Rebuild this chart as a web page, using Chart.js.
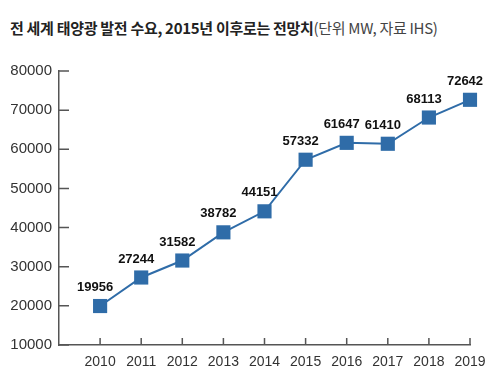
<!DOCTYPE html>
<html>
<head>
<meta charset="utf-8">
<script src="https://cdn.jsdelivr.net/npm/chart.js@4.4.1/dist/chart.umd.min.js"></script>
<style>
  html, body { margin: 0; padding: 0; background: #fff; }
  #wrap { position: relative; width: 500px; height: 384px; }
  #title {
    position: absolute; left: 10px; top: 17px;
    font-family: "Noto Sans CJK KR", sans-serif; font-size: 15px;
    letter-spacing: -0.3px; color: #222; white-space: nowrap;
  }
  #title b { font-weight: 700; }
  #title span { font-weight: 400; color: #444; }
  canvas { position: absolute; left: 0; top: 0; }
</style>
</head>
<body>
<div id="wrap">
  <div id="title"><b>전 세계 태양광 발전 수요, 2015년 이후로는 전망치</b><span>(단위 MW, 자료 IHS)</span></div>
  <canvas id="solarChart" width="500" height="384"></canvas>
</div>
<script>
// Data
const years = [2010, 2011, 2012, 2013, 2014, 2015, 2016, 2017, 2018, 2019];
const demand = [19956, 27244, 31582, 38782, 44151, 57332, 61647, 61410, 68113, 72642];
const yTicks = [10000, 20000, 30000, 40000, 50000, 60000, 70000, 80000];

const blue = '#2f6ca8';
const axisColor = '#555';

// Draw value labels above the points and the inward tick marks
const extrasPlugin = {
    id: 'extras',
    afterDraw(chart) {
        const ctx = chart.ctx;
        const xs = chart.scales.x;
        const ys = chart.scales.y;
        ctx.save();
        ctx.strokeStyle = axisColor;
        ctx.lineWidth = 1.5;
        ctx.beginPath();
        yTicks.forEach(v => {
            const py = ys.getPixelForValue(v);
            ctx.moveTo(xs.left, py);
            ctx.lineTo(xs.left + 10, py);
        });
        years.forEach(v => {
            const px = xs.getPixelForValue(v);
            ctx.moveTo(px, ys.bottom);
            ctx.lineTo(px, ys.bottom - 7);
        });
        ctx.stroke();

        const meta = chart.getDatasetMeta(0);
        ctx.fillStyle = '#111';
        ctx.font = 'bold 13px "Liberation Sans", Arial, sans-serif';
        ctx.textAlign = 'center';
        ctx.textBaseline = 'bottom';
        meta.data.forEach((pt, i) => {
            ctx.fillText(String(demand[i]), pt.x - 5, pt.y - 12);
        });
        ctx.restore();
    }
};

const ctx = document.getElementById('solarChart').getContext('2d');
new Chart(ctx, {
    type: 'line',
    data: {
        datasets: [{
            data: years.map((yr, i) => ({ x: yr, y: demand[i] })),
            borderColor: blue,
            backgroundColor: blue,
            borderWidth: 2,
            pointStyle: 'rect',
            pointRadius: 10,
            pointBorderWidth: 0,
            pointBackgroundColor: blue,
            tension: 0,
            clip: false
        }]
    },
    options: {
        responsive: false,
        animation: false,
        layout: { padding: { top: 71, right: 30, left: 0, bottom: 0 } },
        plugins: {
            legend: { display: false },
            tooltip: { enabled: false }
        },
        scales: {
            x: {
                type: 'linear',
                min: 2009,
                max: 2019,
                afterBuildTicks: (scale) => {
                    scale.ticks = years.map(v => ({ value: v }));
                },
                afterFit: (scale) => { scale.height = 39; },
                grid: { display: true, drawOnChartArea: false, drawTicks: false },
                border: { display: true, color: axisColor, width: 1.5 },
                ticks: {
                    padding: 9,
                    color: '#333',
                    font: { family: '"Liberation Sans", Arial, sans-serif', size: 14 },
                    callback: (v) => String(v),
                    maxRotation: 0,
                    autoSkip: false
                }
            },
            y: {
                min: 10000,
                max: 80000,
                afterBuildTicks: (scale) => {
                    scale.ticks = yTicks.map(v => ({ value: v }));
                },
                afterFit: (scale) => { scale.width = 59; },
                grid: { display: true, drawOnChartArea: false, drawTicks: false },
                border: { display: true, color: axisColor, width: 1.5 },
                ticks: {
                    padding: 7,
                    color: '#333',
                    font: { family: '"Liberation Sans", Arial, sans-serif', size: 15 },
                    callback: (v) => String(v)
                }
            }
        }
    },
    plugins: [extrasPlugin]
});
</script>
</body>
</html>
